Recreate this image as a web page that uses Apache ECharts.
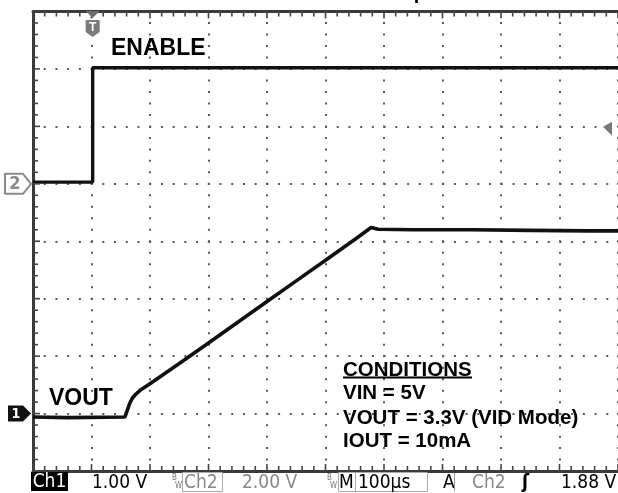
<!DOCTYPE html>
<html><head><meta charset="utf-8">
<script src="https://cdn.jsdelivr.net/npm/echarts@6/dist/echarts.min.js"></script>
<style>html,body{margin:0;padding:0;background:#fff}#c{width:618px;height:493px}</style>
</head><body><div id="c"></div>
<script>
// Time in microseconds from the left edge of the screen (100 us/div)
const enableTime  = [0, 102, 102, 1000];
const enableVolts = [0.06, 0.06, 4.04, 4.04];          // Ch2, 2 V/div
const voutTime  = [0, 60, 157, 161, 165, 170, 176, 185, 200, 250, 300, 350, 400, 450, 500, 550, 578, 590, 650, 750, 850, 950, 1000];
const voutVolts = [-0.06, -0.07, -0.06, 0.05, 0.17, 0.27, 0.34, 0.42, 0.52, 0.87, 1.23, 1.59, 1.95, 2.31, 2.67, 3.03, 3.24, 3.21, 3.20, 3.20, 3.19, 3.18, 3.18];
const triggerTime = 102;
const triggerLevel = 1.88;
const conditionLines = ['VIN = 5V', 'VOUT = 3.3V (VID Mode)', 'IOUT = 10mA'];

const chart = echarts.init(document.getElementById('c'));
const frame = {show: true, onZero: false, lineStyle: {color: '#3a3a3a', width: 3}};
const hidden = {show: false};
chart.setOption({
  animation: false,
  backgroundColor: '#fff',
  grid: {left: 33, top: 11.5, width: 586, height: 459.5, show: false},
  xAxis: [
    {type: 'value', min: 0, max: 1000, interval: 100, position: 'bottom',
     axisLine: frame, axisLabel: hidden, axisTick: hidden,
     splitLine: {show: true, lineStyle: {color: '#5a5a5a', width: 2, type: [2, 9.49], dashOffset: 1}}},
    {type: 'value', min: 0, max: 1000, interval: 100, position: 'top',
     axisLine: frame, axisLabel: hidden, splitLine: hidden, axisTick: hidden}
  ],
  yAxis: [
    {type: 'value', min: -1, max: 7, interval: 1, position: 'left',
     axisLine: frame, axisLabel: hidden, axisTick: hidden,
     splitLine: {show: true, lineStyle: {color: '#5a5a5a', width: 2, type: [2, 9.72], dashOffset: 1}}},
    {type: 'value', min: -10, max: 6, interval: 2, position: 'right',
     axisLine: {show: false, onZero: false}, axisLabel: hidden, axisTick: hidden, splitLine: hidden}
  ],
  series: [
    {type: 'line', name: 'ENABLE', xAxisIndex: 0, yAxisIndex: 1, showSymbol: false, z: 5,
     data: enableTime.map((t, i) => [t, enableVolts[i]]),
     lineStyle: {color: '#111', width: 3.4}},
    {type: 'line', name: 'VOUT', xAxisIndex: 0, yAxisIndex: 0, showSymbol: false, z: 5,
     data: voutTime.map((t, i) => [t, voutVolts[i]]),
     lineStyle: {color: '#111', width: 3.6}}
  ]
});

const ch1Zero = chart.convertToPixel({yAxisIndex: 0}, 0);
const ch2Zero = chart.convertToPixel({yAxisIndex: 1}, 0);
const trigX = chart.convertToPixel({xAxisIndex: 0}, triggerTime);
const trigY = chart.convertToPixel({yAxisIndex: 1}, triggerLevel);
const topY = chart.convertToPixel({yAxisIndex: 0}, 7);
const botY = chart.convertToPixel({yAxisIndex: 0}, -1);
const leftX = chart.convertToPixel({xAxisIndex: 0}, 0);

const F = '"Liberation Sans", Arial, sans-serif';
const SF = '"DejaVu Sans Condensed", "DejaVu Sans", sans-serif';
function txt(text, x, y, font, fill, align) {
  return {type: 'text', silent: true, z: 20, style: {text, x, y, font, fill: fill || '#000',
    align: align || 'left', verticalAlign: 'middle', textAlign: align || 'left', textVerticalAlign: 'middle'}};
}
function seg(x1, y1, x2, y2, color, w) {
  return {type: 'line', silent: true, z: 15, shape: {x1, y1, x2, y2}, style: {stroke: color, lineWidth: w}};
}
const g = [];
// graticule border ticks (every 1/5 division), via the axis scales
for (let k = 0; k <= 50; k++) {
  const x = chart.convertToPixel({xAxisIndex: 0}, k * 20);
  const len = k % 5 === 0 ? 7 : 5;
  g.push(seg(x, topY, x, topY + len, '#444', 1.6));
  g.push(seg(x, botY, x, botY - len, '#444', 1.6));
}
for (let k = 0; k <= 40; k++) {
  const y = chart.convertToPixel({yAxisIndex: 0}, -1 + k * 0.2);
  const len = k % 5 === 0 ? 7 : 5;
  g.push(seg(leftX, y, leftX + len, y, '#444', 1.6));
}
// partially visible title (cut off at top)
g.push(txt('Startup', 356, -7, 'bold 20px ' + F, '#000'));
// plot annotations
g.push(txt('ENABLE', 111, 48.5, 'bold 23px ' + F));
g.push(txt('VOUT', 49, 398.5, 'bold 23px ' + F));
g.push(txt('CONDITIONS', 343, 370, 'bold 20.5px ' + F));
g.push({type: 'rect', silent: true, z: 20, shape: {x: 343, y: 376.5, width: 129, height: 2}, style: {fill: '#000'}});
const condY = [393, 418, 441.5];
conditionLines.forEach((s, i) => g.push(txt(s, 343, condY[i], 'bold 20.5px ' + F)));
// Ch2 ground marker
g.push({type: 'polygon', silent: true, z: 20,
  shape: {points: [[5, ch2Zero - 10], [23, ch2Zero - 10], [31, ch2Zero], [23, ch2Zero + 10], [5, ch2Zero + 10]]},
  style: {fill: '#fff', stroke: '#8a8a8a', lineWidth: 2, lineJoin: 'round'}});
g.push(txt('2', 15, ch2Zero + 0.5, 'bold 18px ' + SF, '#8a8a8a', 'center'));
// Ch1 ground marker
g.push({type: 'polygon', silent: true, z: 20,
  shape: {points: [[8, ch1Zero - 8], [23, ch1Zero - 8], [31, ch1Zero], [23, ch1Zero + 8], [8, ch1Zero + 8]]},
  style: {fill: '#111'}});
g.push(txt('1', 16, ch1Zero + 0.5, 'bold 14px ' + SF, '#fff', 'center'));
// Trigger position marker
g.push({type: 'polygon', silent: true, z: 20,
  shape: {points: [[trigX - 7, 11], [trigX + 7, 11], [trigX, 18]]}, style: {fill: '#6e6e6e'}});
g.push({type: 'polygon', silent: true, z: 20,
  shape: {points: [[trigX - 7, 20], [trigX + 7, 20], [trigX + 7, 32], [trigX, 37], [trigX - 7, 32]]},
  style: {fill: '#7a7a7a'}});
g.push(txt('T', trigX, 28, 'bold 12px ' + F, '#fff', 'center'));
// Trigger level marker (right side)
g.push({type: 'polygon', silent: true, z: 20,
  shape: {points: [[603, trigY - 3], [612, trigY - 8], [612, trigY + 6]]}, style: {fill: '#777'}});
// Status bar
const SY = 483;
g.push({type: 'rect', silent: true, z: 20, shape: {x: 31, y: 472, width: 37, height: 19}, style: {fill: '#000'}});
g.push(txt('Ch1', 49.5, SY - 1, '19px ' + SF, '#fff', 'center'));
g.push(txt('1.00 V', 92, SY, '19px ' + SF, '#000'));
g.push(txt('B', 172, 478, '8px ' + SF, '#777'));
g.push(txt('W', 175, 486, '8px ' + SF, '#777'));
g.push({type: 'rect', silent: true, z: 20, shape: {x: 182.5, y: 472.5, width: 40, height: 19}, style: {fill: 'none', stroke: '#aaa', lineWidth: 1}});
g.push(txt('Ch2', 184, SY, '19px ' + SF, '#888'));
g.push(txt('2.00 V', 242, SY, '19px ' + SF, '#888'));
g.push(txt('B', 327, 478, '8px ' + SF, '#777'));
g.push(txt('W', 330, 486, '8px ' + SF, '#777'));
g.push({type: 'rect', silent: true, z: 20, shape: {x: 338.5, y: 472.5, width: 89, height: 19}, style: {fill: 'none', stroke: '#aaa', lineWidth: 1}});
g.push(txt('M', 339, SY, '19px ' + SF, '#000'));
g.push({type: 'rect', silent: true, z: 20, shape: {x: 355, y: 473, width: 1, height: 18}, style: {fill: '#aaa'}});
g.push(txt('100µs', 358, SY, '19px ' + SF, '#000'));
g.push(txt('A', 443, SY, '19px ' + SF, '#000'));
g.push({type: 'rect', silent: true, z: 20, shape: {x: 454, y: 473, width: 1, height: 18}, style: {fill: '#999'}});
g.push(txt('Ch2', 472, SY, '19px ' + SF, '#888'));
g.push(txt('ʃ', 522, SY, 'bold 19px ' + SF, '#000'));
g.push(txt('1.88 V', 561, SY, '19px ' + SF, '#000'));
chart.setOption({graphic: g});
</script>
</body></html>
